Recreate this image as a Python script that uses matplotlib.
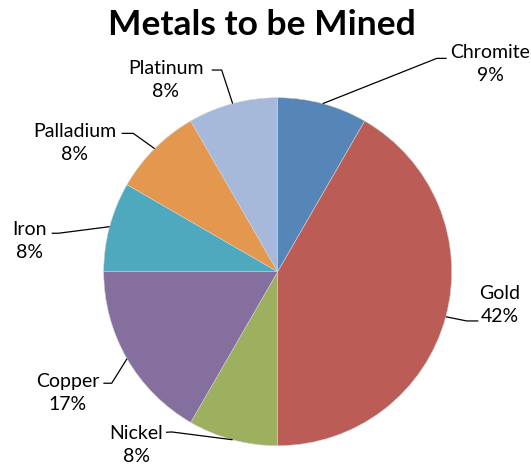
import numpy as np
import matplotlib
matplotlib.use("Agg")
import matplotlib.pyplot as plt

plt.rcParams['font.family'] = ['Lato', 'DejaVu Sans']

metals = ['Chromite', 'Gold', 'Nickel', 'Copper', 'Iron', 'Palladium', 'Platinum']
shares = [1, 5, 1, 2, 1, 1, 1]   # slice sizes as drawn (multiples of 30 degrees)
pct_labels = ['9%', '42%', '8%', '17%', '8%', '8%', '8%']
colors = ['#5586B7', '#BB5D56', '#9CB060', '#846F9F', '#4EA8BE', '#E3974F', '#A6B9DA']

# label centre, line end near label, elbow (data units, pie radius = 1)
label_pos = {
    'Chromite': ((1.22, 1.193), (0.971, 1.226), (0.914, 1.226)),
    'Gold': ((1.278, -0.191), (1.153, -0.283), (1.086, -0.283)),
    'Nickel': ((-0.811, -0.996), (-0.642, -0.923), (-0.609, -0.921)),
    'Copper': ((-1.205, -0.697), (-1.002, -0.641), (-0.954, -0.641)),
    'Iron': ((-1.424, 0.176), (-1.299, 0.221), (-1.26, 0.221)),
    'Palladium': ((-1.165, 0.740), (-0.897, 0.795), (-0.830, 0.795)),
    'Platinum': ((-0.642, 1.102), (-0.379, 1.159), (-0.322, 1.159)),
}

W, H = 531, 468
cx, cy, r = 277.7, 271.7, 174.0

fig = plt.figure(figsize=(W / 100, H / 100), dpi=100)
ax = fig.add_axes([0, 0, 1, 1])
wedges, _ = ax.pie(shares, colors=colors, startangle=90, counterclock=False,
                   radius=1, wedgeprops=dict(edgecolor='#D0D0D0', linewidth=0.4))
ax.set_xlim(-cx / r, (W - cx) / r)
ax.set_ylim((cy - H) / r, cy / r)
ax.set_aspect('auto')
ax.axis('off')

for w, name, pct in zip(wedges, metals, pct_labels):
    mid = np.deg2rad((w.theta1 + w.theta2) / 2)
    ex, ey = np.cos(mid), np.sin(mid)
    (tx, ty), (lx, ly), (bx, by) = label_pos[name]
    ax.plot([lx, bx, ex], [ly, by, ey], color='black', lw=0.9, solid_capstyle='butt')
    ax.text(tx, ty, name + '\n' + pct, ha='center', va='center', fontsize=14,
            linespacing=1.42, color='black')

fig.text(261.5 / W, 1 - 25 / H, 'Metals to be Mined', ha='center', va='center',
         fontsize=25.5, fontweight='bold')

fig.savefig('out.png', dpi=100)
